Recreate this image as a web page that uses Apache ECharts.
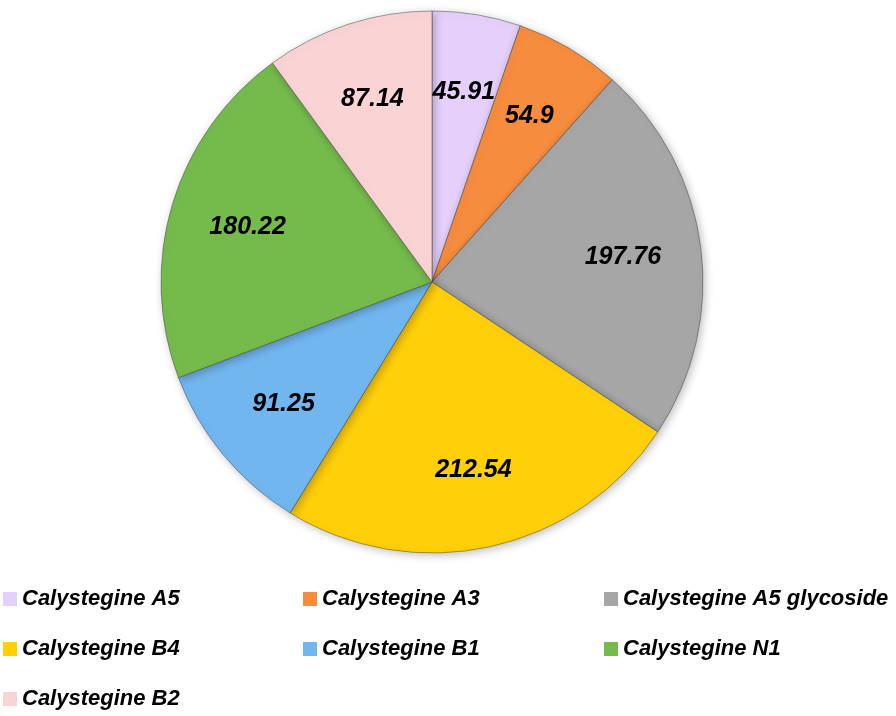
<!DOCTYPE html>
<html>
<head>
<meta charset="utf-8">
<script src="https://cdn.jsdelivr.net/npm/echarts@6/dist/echarts.min.js"></script>
<style>
  html, body { margin: 0; padding: 0; background: #fff; }
  #chart { width: 896px; height: 716px; }
</style>
</head>
<body>
<div id="chart"></div>
<script>
const names = ['Calystegine A5', 'Calystegine A3', 'Calystegine A5 glycoside', 'Calystegine B4',
  'Calystegine B1', 'Calystegine N1', 'Calystegine B2'];
const values = [45.91, 54.9, 197.76, 212.54, 91.25, 180.22, 87.14];
const colors = ['#e4d0fa', '#f68c3e', '#a6a6a6', '#ffcf0a', '#72b6ef', '#74bb4c', '#fad4d4'];

// legend columns, as in the picture
const legendCols = [
  ['Calystegine A5', 'Calystegine B4', 'Calystegine B2'],
  ['Calystegine A3', 'Calystegine B1'],
  ['Calystegine A5 glycoside', 'Calystegine N1']
];
const legendLeft = [3, 303, 604];

let chartDom = document.getElementById('chart');
let myChart = echarts.init(chartDom);

let data = names.map(function (n, i) {
  return { name: n, value: values[i], itemStyle: { color: colors[i] } };
});

let labelData = names.map(function (n, i) {
  return { name: n, value: values[i] };
});

let option = {
  backgroundColor: '#ffffff',
  legend: legendCols.map(function (col, i) {
    return {
      data: col.map(function (n) {
        return { name: n, itemStyle: { color: colors[names.indexOf(n)], borderWidth: 0 } };
      }),
      orient: 'vertical',
      left: legendLeft[i],
      top: 588,
      height: 128,
      padding: 0,
      itemWidth: 14,
      itemHeight: 14,
      itemGap: 28,
      icon: 'rect',
      selectedMode: false,
      textStyle: {
        fontFamily: 'Liberation Sans',
        fontWeight: 'bold',
        fontStyle: 'italic',
        fontSize: 22,
        color: '#000'
      }
    };
  }),
  series: [
    {
      type: 'pie',
      center: [432, 282],
      radius: [0, 271],
      startAngle: 90,
      clockwise: true,
      animation: false,
      label: { show: false },
      labelLine: { show: false },
      itemStyle: {
        borderColor: 'rgba(70,70,70,0.5)',
        borderWidth: 1,
        shadowBlur: 8,
        shadowColor: 'rgba(0,0,0,0.25)',
        shadowOffsetX: 2,
        shadowOffsetY: 2
      },
      emphasis: { disabled: true },
      data: data
    },
    {
      type: 'pie',
      center: [432, 282],
      radius: [108, 271],
      startAngle: 90,
      clockwise: true,
      animation: false,
      silent: true,
      itemStyle: { color: 'rgba(0,0,0,0)', borderWidth: 0 },
      label: {
        show: true,
        position: 'inside',
        formatter: '{c}',
        color: '#000',
        fontFamily: 'Liberation Sans',
        fontWeight: 'bold',
        fontStyle: 'italic',
        fontSize: 25
      },
      labelLine: { show: false },
      emphasis: { disabled: true },
      data: labelData
    }
  ]
};

option && myChart.setOption(option);
</script>
</body>
</html>
